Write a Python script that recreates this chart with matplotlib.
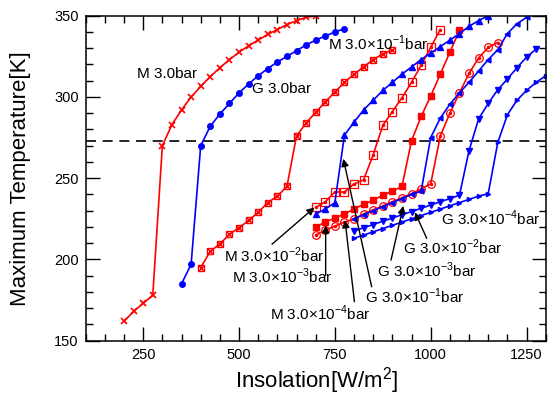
import matplotlib
matplotlib.use("Agg")
import matplotlib.pyplot as plt
from matplotlib.ticker import MultipleLocator

plt.rcParams['font.family'] = ['Liberation Sans', 'DejaVu Sans']
plt.rcParams['mathtext.fontset'] = 'custom'
plt.rcParams['mathtext.rm'] = 'Liberation Sans'

# ---- data (Insolation W/m^2 -> Maximum temperature K) ----
m30_x = list(range(200, 701, 25))
m30_y = [162, 168, 173, 178, 270, 283, 292, 300, 306.5, 312.5, 318, 323, 327.5,
         331.5, 335, 338.5, 341.5, 344.5, 347, 349, 350]

g30_x = list(range(350, 776, 25))
g30_y = [185, 197, 270, 282, 289.5, 296, 302.5, 308, 313, 317.5, 321.5, 325,
         328.5, 332, 335, 337.5, 340, 342]

m31_x = list(range(400, 901, 25))
m31_y = [195, 205, 209.5, 215.5, 219.5, 224, 229, 235, 239, 245, 276, 284, 290.5,
         297, 303, 309, 314, 318.5, 323, 326.5, 329]

g31_x = list(range(700, 1151, 25))
g31_y = [228, 231, 235, 276.5, 284.5, 292, 298, 304, 309, 314, 318.5, 323, 327,
         331, 335, 339, 343.5, 347, 350]

m32_x = list(range(700, 1026, 25))
m32_y = [232, 235.5, 241.5, 241.5, 246.5, 249, 264.5, 282.5, 291, 299.5, 309,
         319.5, 330.5, 341.5]

m33_x = list(range(700, 1076, 25))
m33_y = [220, 223, 225.5, 228, 231, 234, 236.5, 239.5, 242, 245, 273, 288, 300.5,
         314, 327.5, 341]

m34_x = list(range(700, 1176, 25))
m34_y = [215, 218, 220.5, 223, 225, 228, 230.5, 233, 235.5, 238, 240.5, 243.5,
         246.5, 276, 290, 302.5, 314.5, 324, 330.5, 333.5]

g33_x = list(range(800, 1251, 25))
g33_y = [225, 227.5, 230, 232.5, 235, 237.5, 240, 242, 275, 287, 295.5, 302.5,
         309, 316, 323, 329, 339, 345, 349]

g32_x = list(range(800, 1276, 25))
g32_y = [217.5, 219.5, 221.5, 223.5, 225.5, 227.5, 229.5, 231.5, 233.5, 235.5,
         237.5, 239.5, 267, 286.5, 296, 304.5, 311, 318, 324.5, 329.5]

g34_x = list(range(800, 1301, 25))
g34_y = [213, 215, 217, 219, 221, 223, 225, 227, 229, 231, 233, 235, 237, 239,
         240.5, 272, 289, 298, 304, 309, 313]

freeze_T = 273.15

RED = '#ff0000'
BLUE = '#0000ff'

fig = plt.figure(figsize=(5.5, 3.96), dpi=100)
ax = fig.add_axes([0.1558, 0.1396, 0.8364, 0.8207])

lw = 1.2
ax.axhline(freeze_T, color='black', lw=1.2, ls=(0, (6, 4)), zorder=1)

# M 3.0bar
ax.plot(m30_x, m30_y, color=RED, lw=lw, marker='x', ms=5, mew=1.2)
# G 3.0bar
ax.plot(g30_x, g30_y, color=BLUE, lw=lw, marker='o', ms=4)
# M 3.0e-1
ax.plot(m31_x, m31_y, color=RED, lw=lw, marker='s', ms=5, mfc='none', mew=1.0)
ax.plot(m31_x, m31_y, color=RED, lw=0, marker='x', ms=4, mew=1.0)
# M 3.0e-2
ax.plot(m32_x, m32_y, color=RED, lw=lw, marker='s', ms=5.5, mfc='none', mew=0.9)
ax.plot(m32_x, m32_y, color=RED, lw=0, marker='.', ms=3)
# M 3.0e-3
ax.plot(m33_x, m33_y, color=RED, lw=lw, marker='s', ms=5)
# M 3.0e-4
ax.plot(m34_x, m34_y, color=RED, lw=lw, marker='o', ms=5.5, mfc='none', mew=0.9)
ax.plot(m34_x, m34_y, color=RED, lw=0, marker='.', ms=3)
# G 3.0e-1
ax.plot(g31_x, g31_y, color=BLUE, lw=lw, marker='^', ms=5)
# G 3.0e-3
ax.plot(g33_x, g33_y, color=BLUE, lw=lw, marker='<', ms=3.5)
# G 3.0e-2
ax.plot(g32_x, g32_y, color=BLUE, lw=lw, marker='v', ms=5)
# G 3.0e-4
ax.plot(g34_x, g34_y, color=BLUE, lw=lw, marker='>', ms=3)

ax.set_xlim(100, 1300)
ax.set_ylim(150, 350)
ax.xaxis.set_major_locator(MultipleLocator(250))
ax.xaxis.set_minor_locator(MultipleLocator(50))
ax.yaxis.set_major_locator(MultipleLocator(50))
ax.yaxis.set_minor_locator(MultipleLocator(10))
ax.tick_params(which='both', direction='in', top=True, right=True, width=1.0,
               labelsize=10.5)
ax.tick_params(which='major', length=10, pad=5)
ax.tick_params(which='minor', length=5)
for s in ax.spines.values():
    s.set_linewidth(1.1)

ax.set_xlabel('Insolation[W/m$^2$]', fontsize=16)
ax.set_ylabel('Maximum Temperature[K]', fontsize=16)
ax.xaxis.set_label_coords(0.503, -0.075)
ax.yaxis.set_label_coords(-0.118, 0.5)

fs = 11
ax.text(233, 314.3, 'M 3.0bar', fontsize=fs, va='center', ha='left')
ax.text(533, 304.7, 'G 3.0bar', fontsize=fs, va='center', ha='left')
ax.text(733, 333.2, 'M 3.0×10$^{-1}$bar', fontsize=fs, va='center', ha='left')
ax.text(462, 202.5, 'M 3.0×10$^{-2}$bar', fontsize=fs, va='center', ha='left')
ax.text(481, 189.8, 'M 3.0×10$^{-3}$bar', fontsize=fs, va='center', ha='left')
ax.text(581, 166.8, 'M 3.0×10$^{-4}$bar', fontsize=fs, va='center', ha='left')
ax.text(829, 177, 'G 3.0×10$^{-1}$bar', fontsize=fs, va='center', ha='left')
ax.text(859, 193.5, 'G 3.0×10$^{-3}$bar', fontsize=fs, va='center', ha='left')
ax.text(929, 207.4, 'G 3.0×10$^{-2}$bar', fontsize=fs, va='center', ha='left')
ax.text(1027, 225.6, 'G 3.0×10$^{-4}$bar', fontsize=fs, va='center', ha='left')

arrows = [
    ((586, 209.4), (697, 232)),
    ((726, 190.2), (726, 221)),
    ((801, 174), (776.5, 224.2)),
    ((846, 183.2), (772, 262)),
    ((896.5, 199.6), (928.6, 233)),
    ((989.6, 213), (959, 229)),
]
for tail, tip in arrows:
    ax.annotate('', xy=tip, xytext=tail,
                arrowprops=dict(arrowstyle='-|>', color='black', lw=1.0,
                                mutation_scale=11, shrinkA=0, shrinkB=0))

fig.savefig('out.png', dpi=100)
